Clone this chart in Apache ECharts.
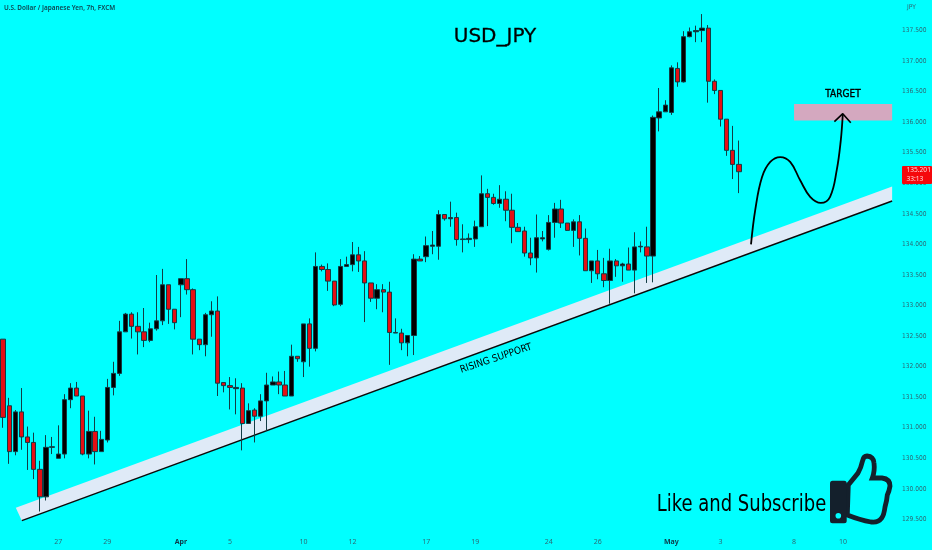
<!DOCTYPE html>
<html>
<head>
<meta charset="utf-8">
<style>html,body{margin:0;padding:0;background:#00ffff}#c{width:932px;height:550px}</style>
<script src="https://cdn.jsdelivr.net/npm/echarts@6/dist/echarts.min.js"></script>
</head>
<body>
<div id="c"></div>
<script>
// candle values, index 0..120
const opens = [132.45,131.36,130.61,131.26,130.85,130.76,130.32,129.87,130.68,130.50,130.57,131.46,131.65,131.52,130.57,130.94,130.61,130.80,131.66,131.89,
132.57,132.86,132.66,132.57,132.43,132.62,132.75,133.34,132.94,133.34,133.44,133.26,132.45,132.36,132.85,132.91,131.74,131.69,131.64,131.65,
131.07,131.29,131.19,131.44,131.70,131.75,131.70,131.52,132.17,132.08,132.70,132.30,133.64,133.59,133.40,133.02,133.64,133.67,133.83,133.73,
133.37,133.12,133.26,133.22,132.56,132.55,132.39,132.51,133.76,133.80,133.97,133.97,134.49,134.42,134.44,134.08,134.08,134.09,134.29,134.83,
134.77,134.67,134.74,134.56,134.28,134.22,133.86,133.78,134.09,133.92,134.36,134.58,134.35,134.23,134.37,134.10,133.57,133.73,133.52,133.41,
133.73,133.65,133.68,133.58,133.96,133.96,133.81,136.07,136.17,136.16,136.88,136.66,137.40,137.48,137.50,137.54,136.67,136.52,136.05,135.54,135.31];
const closes = [131.17,130.61,131.26,130.85,130.76,130.32,129.87,130.68,130.69,130.57,131.46,131.65,131.52,130.57,130.94,130.61,130.81,131.66,131.89,132.57,
132.86,132.66,132.57,132.43,132.62,132.75,133.34,132.94,132.72,133.44,133.26,132.45,132.36,132.85,132.91,131.73,131.69,131.66,131.66,131.07,
131.28,131.19,131.44,131.70,131.75,131.70,131.52,132.17,132.13,132.70,132.30,133.64,133.59,133.40,133.01,133.64,133.67,133.83,133.73,133.37,
133.12,133.26,133.22,132.56,132.55,132.39,132.51,133.76,133.73,133.98,133.99,134.49,134.42,134.44,134.08,134.09,134.10,134.29,134.83,134.77,
134.67,134.74,134.56,134.28,134.21,133.86,133.78,134.11,134.11,134.36,134.58,134.35,134.23,134.37,134.10,133.57,133.73,133.52,133.41,133.73,
133.65,133.68,133.58,133.96,133.97,133.81,136.08,136.17,136.28,136.89,136.66,137.40,137.48,137.50,137.54,136.67,136.52,136.05,135.54,135.31,135.19];
const lows = [131.00,130.41,130.55,130.64,130.31,130.16,129.63,129.81,130.57,130.50,130.50,131.32,131.52,130.55,130.50,130.40,130.61,130.76,131.53,131.85,
132.57,132.46,132.20,132.32,132.40,132.59,132.68,132.70,132.61,132.81,133.18,132.20,132.27,132.17,132.49,131.52,131.58,131.30,131.22,130.63,
131.07,130.76,131.11,130.95,131.70,131.55,131.52,131.52,132.08,131.83,132.00,132.25,133.56,133.24,132.99,132.99,133.64,133.56,133.55,132.73,
133.06,132.94,132.89,132.03,132.55,132.27,132.17,132.19,133.73,133.71,133.84,133.75,134.39,134.29,133.98,133.87,134.02,133.96,134.29,134.30,
134.65,134.60,134.38,134.02,134.21,133.80,133.66,133.54,134.05,133.90,134.11,134.27,134.22,133.96,133.82,133.57,133.37,133.43,133.30,133.03,
133.47,133.39,133.58,133.20,133.87,133.37,133.38,135.85,136.17,136.12,136.58,136.65,137.39,137.31,137.31,136.32,136.46,135.93,135.45,135.07,134.84];
const highs = [132.45,131.49,131.29,131.65,131.02,130.92,130.46,130.88,130.85,131.04,131.55,131.73,131.75,131.52,131.28,131.18,130.95,131.80,132.08,132.75,
132.88,132.89,132.89,132.96,132.72,133.50,133.60,133.34,132.94,133.44,133.76,133.28,132.45,132.88,133.07,133.15,131.74,131.83,131.81,131.73,
131.40,131.32,131.55,131.90,131.84,131.92,131.93,132.36,132.17,132.70,132.79,133.87,133.67,133.69,133.40,133.76,133.80,134.04,133.96,133.89,
133.37,133.35,133.35,133.39,132.79,132.62,132.51,133.84,133.81,134.13,134.22,134.56,134.49,134.70,134.52,134.33,134.18,134.39,135.13,134.91,
134.83,134.97,134.87,134.83,134.35,134.29,134.11,134.49,134.22,134.48,134.68,134.73,134.35,134.41,134.48,134.26,133.73,133.91,133.78,133.93,
133.76,133.70,133.95,134.20,134.05,134.29,136.11,136.56,136.36,136.93,136.98,137.49,137.55,137.58,137.77,137.59,136.70,136.52,136.05,135.94,135.70];

// axis labels
const bandCount = 152;
const xLabelIndex = [9,17,29,37,49,57,69,77,89,97,109,117,129,137];
const xLabelText = ['27','29','Apr','5','10','12','17','19','24','26','May','3','8','10'];
const yMin = 129, yMax = 138, yStep = 0.5;

// drawn annotations: [candle index, price]
const supportBand = [[2.08,129.69],[145.0,134.95],[145.0,134.71],[3.06,129.48]];
const supportLine = [[3.06,129.48],[145.0,134.71]];
const targetZone = [129.0,136.30,145.0,136.03];
const pathCurve = [[121.98,134.00],[122.68,134.57],[123.77,135.10],[125.12,135.35],[126.75,135.43],[128.37,135.35],[130.0,135.05],[131.63,134.78],[133.37,134.68],[134.88,134.78],[135.97,135.22],[136.62,135.70],[136.95,136.13]];
const arrowHead = [[135.58,136.01],[136.95,136.14],[138.25,135.99]];

const categories = Array.from({length: bandCount}, (_, i) => {
  const k = xLabelIndex.indexOf(i);
  return k >= 0 ? xLabelText[k] : '';
});
const candles = opens.map((o, i) => [o, closes[i], lows[i], highs[i]]);
const MONTHS = ['Apr', 'May'];
const AXIS = '#2d6874', EDGE = '#123c44';
const NARROW = '"Liberation Sans Narrow","DejaVu Sans Condensed"';

const chart = echarts.init(document.getElementById('c'), null, {renderer: 'canvas', width: 932, height: 550});
chart.setOption({
  animation: false,
  backgroundColor: '#00ffff',
  grid: {left: -2.575, right: -0.225, top: -1.875, bottom: -3.875},
  tooltip: {show: false},
  xAxis: [
    {type: 'category', data: categories, boundaryGap: true,
     axisLine: {show: false}, axisTick: {show: false}, splitLine: {show: false},
     axisLabel: {inside: true, interval: 0, margin: 8, fontSize: 7, color: AXIS, fontFamily: 'Noto Sans', verticalAlign: 'middle', lineHeight: 8,
       formatter: v => MONTHS.includes(v) ? '{m|' + v + '}' : v,
       rich: {m: {fontSize: 7, fontWeight: 'bold', color: '#0d3a4a', fontFamily: 'Noto Sans'}}}},
    {type: 'value', min: -0.5, max: bandCount - 0.5, show: false, splitLine: {show: false}}
  ],
  yAxis: [{type: 'value', position: 'right', min: yMin, max: yMax, interval: yStep, scale: true,
     axisLine: {show: false}, axisTick: {show: false}, splitLine: {show: false},
     axisLabel: {inside: true, margin: 5.5, fontSize: 6.6, color: AXIS, fontFamily: NARROW, align: 'right',
       showMinLabel: false, showMaxLabel: false, formatter: v => v.toFixed(3)}}],
  series: [
    {type: 'custom', xAxisIndex: 1, yAxisIndex: 0, z: 1, silent: true, data: supportBand,
     renderItem: (p, api) => p.dataIndex === 0 ? {type: 'polygon',
        shape: {points: supportBand.map(d => api.coord(d))}, style: {fill: '#dfeaf7'}} : null},
    {type: 'line', xAxisIndex: 1, yAxisIndex: 0, z: 2, silent: true, data: supportLine, showSymbol: false,
     lineStyle: {color: '#0a0a0a', width: 1.5}},
    {type: 'custom', xAxisIndex: 1, yAxisIndex: 0, z: 1, silent: true, data: [targetZone],
     encode: {x: [0, 2], y: [1, 3]},
     renderItem: (p, api) => {
       const a = api.coord([api.value(0), api.value(1)]), b = api.coord([api.value(2), api.value(3)]);
       return {type: 'rect', shape: {x: a[0], y: a[1], width: b[0] - a[0], height: b[1] - a[1]}, style: {fill: '#d4a8bf'}};
     }},
    {type: 'candlestick', xAxisIndex: 0, yAxisIndex: 0, z: 3, silent: true, data: candles, barWidth: 4.8,
     itemStyle: {color: '#000000', color0: '#e40f14', borderColor: EDGE, borderColor0: EDGE, borderWidth: 1}},
    {type: 'line', xAxisIndex: 1, yAxisIndex: 0, z: 4, silent: true, data: pathCurve, showSymbol: false, smooth: 0.4,
     lineStyle: {color: '#000000', width: 1.8}},
    {type: 'line', xAxisIndex: 1, yAxisIndex: 0, z: 4, silent: true, data: arrowHead, showSymbol: false,
     lineStyle: {color: '#000000', width: 1.6}},
    {type: 'custom', coordinateSystem: 'none', z: 5, silent: true, data: [0],
     renderItem: () => ({type: 'group', children: [
       {type: 'path', shape: {pathData: 'M848.3 485 L858 473 Q861 468 862.5 461 Q863.5 456 867 456 Q873.5 456.5 874 463 Q875 471 872.3 478 L882 478 Q890 479 890 486 Q889 492 887.3 495 Q887 500 885 507 Q884 515 881.7 518 Q878 523 871 522 Q860 520 847.3 515 Z'},
        style: {fill: '#00ffff', stroke: '#14202c', lineWidth: 4.8}},
       {type: 'rect', shape: {x: 830, y: 480.7, width: 16.7, height: 42.6, r: 2.5}, style: {fill: '#14202c'}},
       {type: 'circle', shape: {cx: 838.3, cy: 515.7, r: 2.8}, style: {fill: '#00ffff'}}
     ]})}
  ],
  graphic: {elements: [
    {type: 'text', left: 4, top: 5.5, z: 10, style: {text: 'U.S. Dollar / Japanese Yen, 7h, FXCM', font: '600 6.4px "Noto Sans"', fill: '#0d4450'}},
    {type: 'text', left: 907, top: 3.5, z: 10, style: {text: 'JPY', font: '6.6px ' + NARROW, fill: AXIS}},
    {type: 'text', x: 495, y: 37, z: 10, style: {text: 'USD_JPY', font: '20px "DejaVu Sans"', fill: '#000', stroke: '#000', lineWidth: 0.3, align: 'center', verticalAlign: 'middle'}},
    {type: 'text', x: 843, y: 94, z: 10, style: {text: 'TARGET', font: '10px "DejaVu Sans Condensed"', fill: '#000', stroke: '#000', lineWidth: 0.35, align: 'center', verticalAlign: 'middle'}},
    {type: 'text', x: 496, y: 358.5, rotation: 0.32, z: 10, style: {text: 'RISING SUPPORT', font: '10px "DejaVu Sans Condensed"', fill: '#000', align: 'center', verticalAlign: 'middle'}},
    {type: 'text', x: 741.5, y: 505, scaleY: 1.12, z: 10, style: {text: 'Like and Subscribe', font: '20px "DejaVu Sans Condensed"', fill: '#000', align: 'center', verticalAlign: 'middle'}},
    {type: 'rect', z: 10, shape: {x: 902, y: 166, width: 30, height: 18, r: 1}, style: {fill: '#f5080c'}},
    {type: 'text', x: 906.5, y: 170.5, z: 11, style: {text: '135.201', font: '6.6px "Noto Sans"', fill: '#ffd6d6', align: 'left', verticalAlign: 'middle'}},
    {type: 'text', x: 906.5, y: 179.5, z: 11, style: {text: '33:13', font: '6.6px "Noto Sans"', fill: '#ffd6d6', align: 'left', verticalAlign: 'middle'}}
  ]}
});
</script>
</body>
</html>
